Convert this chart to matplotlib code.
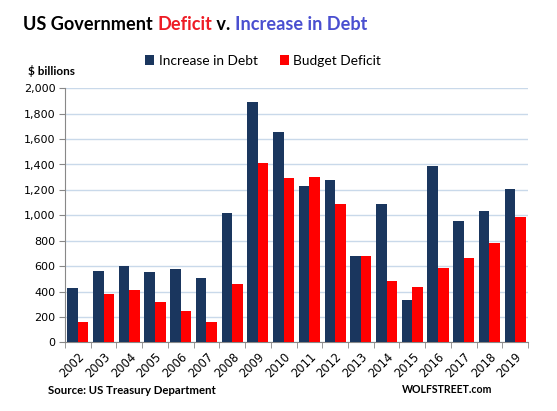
import matplotlib
matplotlib.use("Agg")
import matplotlib.pyplot as plt
import numpy as np
from matplotlib.ticker import FuncFormatter, FixedLocator

years = ["2002", "2003", "2004", "2005", "2006", "2007", "2008", "2009", "2010",
         "2011", "2012", "2013", "2014", "2015", "2016", "2017", "2018", "2019"]
debt_increase = [425, 562, 601, 554, 577, 507, 1018, 1892, 1656,
                 1231, 1278, 680, 1089, 333, 1388, 955, 1034, 1207]
budget_deficit = [160, 381, 412, 318, 247, 160, 459, 1412, 1294,
                  1302, 1089, 680, 483, 436, 585, 664, 782, 987]

NAVY = "#1a365e"
RED = "#ff0000"

fig = plt.figure(figsize=(5.57, 4.11), dpi=100)
ax = fig.add_axes([65/557, 1-342.3/411, (528-65)/557, (342.3-88.3)/411])

x = np.arange(len(years))
w = 0.41
ax.bar(x - w/2, debt_increase, w, color=NAVY, zorder=3, label="Increase in Debt")
ax.bar(x + w/2, budget_deficit, w, color=RED, zorder=3, label="Budget Deficit")

ax.set_xlim(-0.5, len(years) - 0.5)
ax.set_ylim(0, 2000)
ax.set_yticks(np.arange(0, 2001, 200))
ax.yaxis.set_major_formatter(FuncFormatter(lambda v, p: f"{int(v):,}"))
ax.grid(axis="y", color="#c9d9ea", linewidth=1, zorder=0)

ax.set_xticks(x)
ax.set_xticklabels(years, rotation=45, ha="right", rotation_mode="anchor", fontsize=8.3)
ax.xaxis.set_minor_locator(FixedLocator(np.arange(-0.5, len(years), 1.0)))
ax.tick_params(axis="x", which="major", length=0, pad=6)
ax.tick_params(axis="x", which="minor", length=4, color="#888888", direction="out")
ax.tick_params(axis="y", length=4, color="#888888", labelsize=8, pad=3)

for s in ["top", "right"]:
    ax.spines[s].set_visible(False)
ax.spines["left"].set_color("#888888")
ax.spines["bottom"].set_color("#888888")

# Title with colored parts
fig.canvas.draw()
renderer = fig.canvas.get_renderer()
parts = [("US Government ", "black"), ("Deficit", "#ee1c25"), (" v. ", "black"), ("Increase in Debt", "#4a4fd0")]
xpos = 23 / 557
for txt, col in parts:
    t = fig.text(xpos, 1 - 24/411, txt, color=col, fontsize=13.1, fontweight="bold",
                 family="Lato", va="center", ha="left")
    bb = t.get_window_extent(renderer=renderer)
    xpos += bb.width / 557

# Legend
fig.legend(handles=ax.get_legend_handles_labels()[0], labels=["Increase in Debt", "Budget Deficit"],
           loc="center", bbox_to_anchor=(263/557, 1 - 61/411), ncol=2, frameon=False,
           prop={"family": "Lato", "size": 9.9}, handlelength=0.7, handleheight=0.7,
           handletextpad=0.3, columnspacing=1.6)

fig.text(28/557, 1 - 71/411, "$ billions", fontsize=8.5, fontweight="bold", family="Lato",
         va="center", ha="left")
fig.text(48/557, 1 - 390/411, "Source: US Treasury Department", fontsize=8.2, fontweight="bold",
         family="Lato", va="center", ha="left")
fig.text(492/557, 1 - 389/411, "WOLFSTREET.com", fontsize=7.6, fontweight="bold",
         family="Lato", va="center", ha="right")

fig.savefig("out.png", dpi=100)
